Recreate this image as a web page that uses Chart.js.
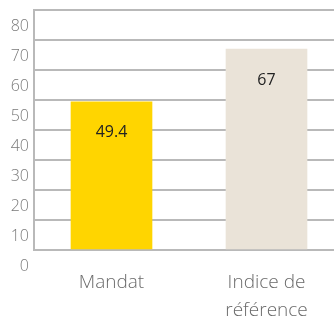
<!DOCTYPE html>
<html>
<head>
<meta charset="utf-8">
<script src="https://cdn.jsdelivr.net/npm/chart.js@4/dist/chart.umd.min.js"></script>
<style>
    html, body { margin: 0; padding: 0; overflow: hidden; background: #fff; }
    #wrap { width: 344px; height: 320px; }
</style>
</head>
<body>
<div id="wrap"><canvas id="barChart"></canvas></div>
<script>
"use strict";
var categories = ['Mandat', ['Indice de', 'référence']];
var values = [49.4, 67];
var barColors = ['#ffd500', '#eae3d8'];
var yTicks = [0, 10, 20, 30, 40, 50, 60, 70, 80];

var gridColor = '#b9b9b9';

/* value printed inside the top of each bar */
var valueLabels = {
    id: 'valueLabels',
    afterDatasetsDraw: function(chart) {
        var ctx = chart.ctx;
        var meta = chart.getDatasetMeta(0);
        ctx.save();
        ctx.font = '16px "Open Sans"';
        ctx.fillStyle = '#222';
        ctx.textAlign = 'center';
        ctx.textBaseline = 'middle';
        meta.data.forEach(function(bar, i) {
            ctx.fillText(String(values[i]), bar.x, bar.y + 31);
        });
        ctx.restore();
    }
};

var bar = document.getElementById("barChart").getContext('2d');
var myBarChart = new Chart(bar, {
    type: 'bar',
    data: {
        labels: categories,
        datasets: [{
            data: values,
            backgroundColor: barColors,
            barThickness: 81
        }]
    },
    plugins: [valueLabels],
    options: {
        responsive: true,
        maintainAspectRatio: false,
        animation: false,
        layout: { padding: 0 },
        plugins: {
            legend: { display: false },
            tooltip: { enabled: false }
        },
        scales: {
            x: {
                grid: { display: false, drawTicks: false },
                border: { color: gridColor, width: 2 },
                ticks: {
                    color: '#6a6a6a',
                    padding: 18,
                    font: { family: 'Open Sans', size: 19, weight: 300, lineHeight: 1.5 }
                },
                afterFit: function(scale) { scale.height = 70; }
            },
            y: {
                min: yTicks[0],
                max: yTicks[yTicks.length - 1],
                grid: { color: gridColor, lineWidth: 2, drawTicks: false },
                border: { color: gridColor, width: 2 },
                ticks: {
                    stepSize: yTicks[1] - yTicks[0],
                    color: '#7a7a7a',
                    padding: 5,
                    labelOffset: 16,
                    font: { family: 'Open Sans', size: 16, weight: 300, lineHeight: 0.62 }
                },
                afterFit: function(scale) { scale.width = 34; }
            }
        }
    }
});
</script>
</body>
</html>
